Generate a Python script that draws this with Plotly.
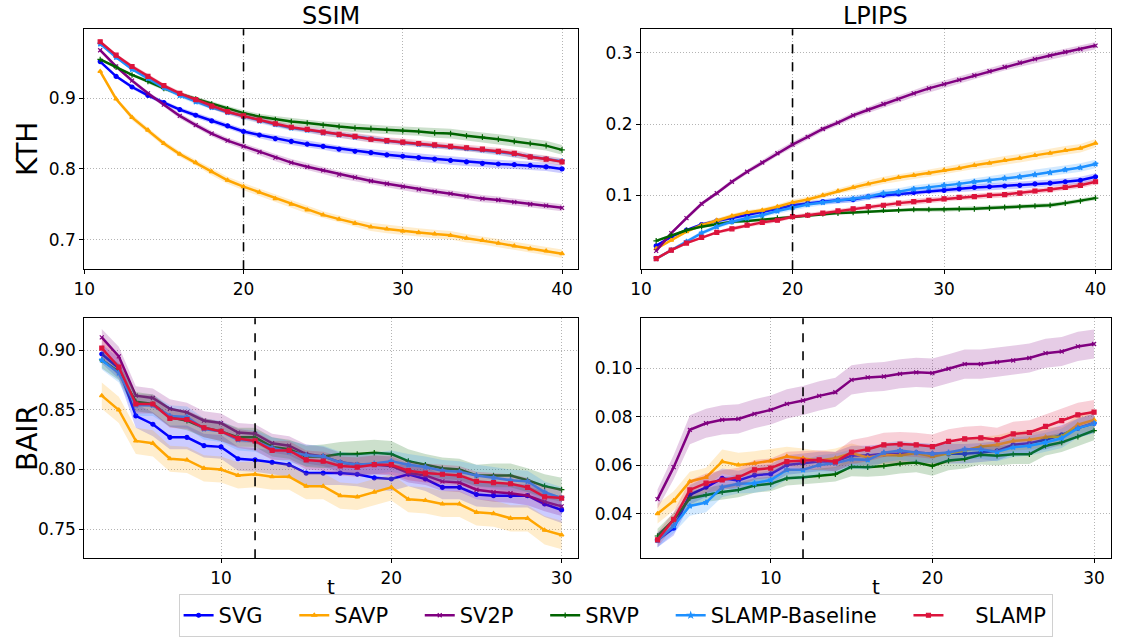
import plotly.graph_objects as go

# ---------------- data ----------------
SERIES = ["SVG", "SAVP", "SV2P", "SRVP", "SLAMP-Baseline", "SLAMP"]

T_KTH = list(range(11, 41))
T_BAIR = list(range(3, 31))
KTH_COND = 20
BAIR_COND = 12

# KTH / SSIM
KTH_SSIM_SVG = [0.952, 0.931, 0.916, 0.904, 0.894, 0.884, 0.876, 0.868, 0.861, 0.853, 0.848, 0.843, 0.839, 0.835, 0.832,
                0.828, 0.825, 0.823, 0.820, 0.818, 0.816, 0.814, 0.812, 0.810, 0.808, 0.807, 0.806, 0.805, 0.803, 0.800]
KTH_SSIM_SAVP = [0.938, 0.899, 0.873, 0.855, 0.836, 0.821, 0.809, 0.796, 0.784, 0.775, 0.767, 0.758, 0.750, 0.742, 0.735,
                 0.729, 0.723, 0.718, 0.715, 0.712, 0.710, 0.708, 0.706, 0.702, 0.699, 0.695, 0.691, 0.687, 0.684, 0.680]
KTH_SSIM_SV2P = [0.968, 0.945, 0.925, 0.907, 0.891, 0.875, 0.862, 0.850, 0.840, 0.832, 0.824, 0.816, 0.809, 0.803, 0.798,
                 0.792, 0.788, 0.783, 0.779, 0.775, 0.771, 0.768, 0.765, 0.761, 0.758, 0.756, 0.753, 0.750, 0.748, 0.745]
KTH_SSIM_SRVP = [0.955, 0.944, 0.933, 0.924, 0.914, 0.906, 0.899, 0.892, 0.885, 0.879, 0.874, 0.870, 0.867, 0.865, 0.862,
                 0.860, 0.858, 0.857, 0.855, 0.854, 0.853, 0.851, 0.850, 0.847, 0.845, 0.842, 0.839, 0.836, 0.833, 0.827]
KTH_SSIM_BASE = [0.977, 0.958, 0.941, 0.928, 0.915, 0.904, 0.895, 0.887, 0.880, 0.874, 0.868, 0.863, 0.858, 0.855, 0.851,
                 0.848, 0.845, 0.842, 0.839, 0.837, 0.835, 0.833, 0.831, 0.829, 0.827, 0.824, 0.821, 0.817, 0.814, 0.811]
KTH_SSIM_SLAMP = [0.980, 0.961, 0.945, 0.931, 0.918, 0.907, 0.898, 0.889, 0.881, 0.875, 0.869, 0.864, 0.859, 0.856, 0.852,
                  0.849, 0.846, 0.842, 0.840, 0.838, 0.836, 0.834, 0.832, 0.830, 0.828, 0.825, 0.822, 0.817, 0.814, 0.810]

KTH_SSIM_SVG_STD = [0.002, 0.002, 0.003, 0.003, 0.003, 0.003, 0.004, 0.004, 0.004, 0.004, 0.004, 0.005, 0.005, 0.005, 0.005,
                    0.005, 0.005, 0.005, 0.005, 0.006, 0.006, 0.006, 0.006, 0.006, 0.006, 0.006, 0.006, 0.006, 0.006, 0.006]
KTH_SSIM_SAVP_STD = [0.003, 0.003, 0.004, 0.004, 0.004, 0.004, 0.004, 0.005, 0.005, 0.005, 0.005, 0.005, 0.005, 0.005, 0.005,
                     0.005, 0.005, 0.006, 0.006, 0.006, 0.006, 0.006, 0.006, 0.006, 0.006, 0.006, 0.006, 0.006, 0.006, 0.006]
KTH_SSIM_SV2P_STD = [0.002, 0.002, 0.003, 0.003, 0.003, 0.004, 0.004, 0.004, 0.004, 0.004, 0.005, 0.005, 0.005, 0.005, 0.005,
                     0.005, 0.005, 0.005, 0.005, 0.005, 0.005, 0.005, 0.005, 0.005, 0.005, 0.005, 0.005, 0.005, 0.005, 0.005]
KTH_SSIM_SRVP_STD = [0.002, 0.002, 0.002, 0.003, 0.003, 0.003, 0.003, 0.004, 0.004, 0.004, 0.004, 0.005, 0.005, 0.005, 0.005,
                     0.006, 0.006, 0.006, 0.006, 0.006, 0.006, 0.007, 0.007, 0.007, 0.007, 0.007, 0.007, 0.007, 0.007, 0.007]
KTH_SSIM_BASE_STD = [0.002, 0.002, 0.002, 0.003, 0.003, 0.003, 0.003, 0.003, 0.003, 0.004, 0.004, 0.004, 0.004, 0.004, 0.004,
                     0.004, 0.004, 0.004, 0.004, 0.004, 0.004, 0.004, 0.004, 0.004, 0.004, 0.004, 0.004, 0.004, 0.004, 0.004]
KTH_SSIM_SLAMP_STD = [0.002, 0.002, 0.003, 0.003, 0.003, 0.003, 0.003, 0.004, 0.004, 0.004, 0.004, 0.004, 0.004, 0.004, 0.005,
                      0.005, 0.005, 0.005, 0.005, 0.005, 0.005, 0.005, 0.005, 0.005, 0.005, 0.005, 0.005, 0.005, 0.005, 0.005]

# KTH / LPIPS
KTH_LPIPS_SVG = [0.029, 0.042, 0.051, 0.059, 0.064, 0.068, 0.072, 0.076, 0.081, 0.086, 0.089, 0.091, 0.093, 0.094, 0.098,
                 0.100, 0.102, 0.104, 0.106, 0.107, 0.109, 0.111, 0.112, 0.113, 0.114, 0.116, 0.117, 0.119, 0.121, 0.126]
KTH_LPIPS_SAVP = [0.025, 0.037, 0.049, 0.058, 0.065, 0.071, 0.076, 0.079, 0.084, 0.090, 0.094, 0.100, 0.106, 0.111, 0.116,
                  0.121, 0.125, 0.128, 0.131, 0.135, 0.138, 0.142, 0.145, 0.149, 0.152, 0.156, 0.159, 0.163, 0.166, 0.173]
KTH_LPIPS_SV2P = [0.022, 0.047, 0.068, 0.088, 0.103, 0.119, 0.133, 0.146, 0.159, 0.171, 0.182, 0.193, 0.202, 0.212, 0.220,
                  0.228, 0.235, 0.243, 0.250, 0.256, 0.262, 0.268, 0.274, 0.280, 0.286, 0.291, 0.296, 0.301, 0.305, 0.310]
KTH_LPIPS_SRVP = [0.036, 0.044, 0.051, 0.056, 0.060, 0.063, 0.064, 0.066, 0.068, 0.070, 0.072, 0.074, 0.075, 0.076, 0.077,
                  0.079, 0.079, 0.080, 0.080, 0.080, 0.081, 0.081, 0.082, 0.083, 0.084, 0.085, 0.086, 0.089, 0.092, 0.096]
KTH_LPIPS_BASE = [0.011, 0.023, 0.035, 0.047, 0.056, 0.063, 0.068, 0.072, 0.078, 0.083, 0.087, 0.090, 0.093, 0.095, 0.098,
                  0.103, 0.105, 0.109, 0.111, 0.114, 0.116, 0.119, 0.121, 0.124, 0.126, 0.129, 0.132, 0.136, 0.139, 0.144]
KTH_LPIPS_SLAMP = [0.011, 0.023, 0.033, 0.041, 0.048, 0.053, 0.058, 0.062, 0.065, 0.070, 0.072, 0.075, 0.078, 0.081, 0.084,
                   0.086, 0.089, 0.091, 0.093, 0.095, 0.097, 0.098, 0.100, 0.101, 0.103, 0.106, 0.108, 0.111, 0.114, 0.119]

KTH_LPIPS_SVG_STD = [0.002, 0.002, 0.002, 0.002, 0.003, 0.003, 0.003, 0.003, 0.003, 0.003, 0.003, 0.004, 0.004, 0.004, 0.004,
                     0.004, 0.004, 0.004, 0.004, 0.004, 0.005, 0.005, 0.005, 0.005, 0.005, 0.005, 0.005, 0.005, 0.005, 0.005]
KTH_LPIPS_SAVP_STD = [0.002, 0.002, 0.002, 0.003, 0.003, 0.003, 0.003, 0.003, 0.003, 0.004, 0.004, 0.004, 0.004, 0.004, 0.005,
                      0.005, 0.005, 0.005, 0.005, 0.005, 0.005, 0.005, 0.006, 0.006, 0.006, 0.006, 0.006, 0.006, 0.006, 0.006]
KTH_LPIPS_SV2P_STD = [0.002, 0.002, 0.003, 0.003, 0.003, 0.003, 0.003, 0.004, 0.004, 0.004, 0.004, 0.004, 0.004, 0.004, 0.004,
                      0.005, 0.005, 0.005, 0.005, 0.005, 0.005, 0.005, 0.005, 0.005, 0.005, 0.005, 0.005, 0.005, 0.005, 0.005]
KTH_LPIPS_SRVP_STD = [0.002, 0.002, 0.002, 0.002, 0.002, 0.002, 0.002, 0.002, 0.002, 0.002, 0.002, 0.002, 0.002, 0.002, 0.002,
                      0.002, 0.003, 0.003, 0.003, 0.003, 0.003, 0.003, 0.003, 0.003, 0.003, 0.003, 0.003, 0.003, 0.003, 0.003]
KTH_LPIPS_BASE_STD = [0.002, 0.002, 0.002, 0.003, 0.003, 0.003, 0.003, 0.003, 0.004, 0.004, 0.004, 0.004, 0.004, 0.004, 0.005,
                      0.005, 0.005, 0.005, 0.005, 0.005, 0.005, 0.005, 0.006, 0.006, 0.006, 0.006, 0.006, 0.006, 0.006, 0.006]
KTH_LPIPS_SLAMP_STD = [0.002, 0.002, 0.002, 0.002, 0.002, 0.003, 0.003, 0.003, 0.003, 0.003, 0.003, 0.003, 0.003, 0.003, 0.003,
                       0.004, 0.004, 0.004, 0.004, 0.004, 0.004, 0.004, 0.004, 0.004, 0.004, 0.004, 0.004, 0.004, 0.004, 0.004]

# BAIR / SSIM
BAIR_SSIM_SVG = [0.897, 0.885, 0.845, 0.838, 0.827, 0.827, 0.820, 0.819, 0.809, 0.808, 0.806, 0.804, 0.797, 0.797,
                 0.797, 0.796, 0.793, 0.792, 0.796, 0.792, 0.785, 0.785, 0.779, 0.778, 0.778, 0.778, 0.771, 0.766]
BAIR_SSIM_SAVP = [0.862, 0.850, 0.824, 0.822, 0.809, 0.808, 0.801, 0.800, 0.795, 0.796, 0.794, 0.794, 0.786, 0.786,
                  0.778, 0.777, 0.781, 0.785, 0.775, 0.774, 0.771, 0.771, 0.764, 0.763, 0.759, 0.759, 0.749, 0.745]
BAIR_SSIM_SV2P = [0.911, 0.895, 0.862, 0.860, 0.851, 0.848, 0.841, 0.839, 0.831, 0.830, 0.822, 0.820, 0.813, 0.811,
                  0.806, 0.804, 0.804, 0.803, 0.797, 0.795, 0.790, 0.789, 0.783, 0.781, 0.780, 0.778, 0.773, 0.769]
BAIR_SSIM_SRVP = [0.892, 0.882, 0.857, 0.855, 0.844, 0.841, 0.835, 0.832, 0.827, 0.827, 0.819, 0.817, 0.811, 0.811,
                  0.813, 0.813, 0.814, 0.813, 0.807, 0.804, 0.801, 0.800, 0.795, 0.795, 0.795, 0.791, 0.786, 0.783]
BAIR_SSIM_BASE = [0.892, 0.881, 0.854, 0.854, 0.845, 0.844, 0.834, 0.832, 0.825, 0.824, 0.818, 0.815, 0.812, 0.811,
                  0.806, 0.804, 0.805, 0.807, 0.804, 0.802, 0.799, 0.798, 0.795, 0.793, 0.791, 0.790, 0.781, 0.776]
BAIR_SSIM_SLAMP = [0.902, 0.886, 0.855, 0.855, 0.843, 0.842, 0.835, 0.832, 0.826, 0.824, 0.816, 0.816, 0.808, 0.807,
                   0.803, 0.802, 0.804, 0.804, 0.799, 0.797, 0.796, 0.795, 0.790, 0.789, 0.788, 0.785, 0.777, 0.776]

BAIR_SSIM_SVG_STD = [0.008, 0.009, 0.010, 0.010, 0.010, 0.010, 0.010, 0.010, 0.010, 0.010, 0.010, 0.010, 0.010, 0.010,
                     0.010, 0.010, 0.010, 0.010, 0.010, 0.010, 0.010, 0.010, 0.010, 0.010, 0.010, 0.010, 0.011, 0.011]
BAIR_SSIM_SAVP_STD = [0.011, 0.011, 0.011, 0.011, 0.011, 0.011, 0.011, 0.011, 0.011, 0.011, 0.011, 0.011, 0.011, 0.011,
                      0.011, 0.011, 0.011, 0.011, 0.011, 0.011, 0.011, 0.011, 0.011, 0.011, 0.011, 0.011, 0.012, 0.012]
BAIR_SSIM_SV2P_STD = [0.007, 0.008, 0.008, 0.008, 0.008, 0.008, 0.008, 0.008, 0.008, 0.008, 0.008, 0.008, 0.008, 0.008,
                      0.008, 0.008, 0.008, 0.008, 0.008, 0.008, 0.008, 0.008, 0.008, 0.008, 0.008, 0.008, 0.008, 0.008]
BAIR_SSIM_SRVP_STD = [0.007, 0.007, 0.008, 0.008, 0.008, 0.008, 0.008, 0.008, 0.008, 0.008, 0.008, 0.008, 0.009, 0.010,
                      0.010, 0.011, 0.011, 0.011, 0.010, 0.009, 0.009, 0.009, 0.009, 0.010, 0.010, 0.010, 0.010, 0.010]
BAIR_SSIM_BASE_STD = [0.008, 0.008, 0.009, 0.009, 0.009, 0.009, 0.009, 0.009, 0.009, 0.009, 0.009, 0.009, 0.009, 0.009,
                      0.009, 0.009, 0.009, 0.009, 0.009, 0.009, 0.009, 0.009, 0.009, 0.009, 0.009, 0.009, 0.009, 0.009]
BAIR_SSIM_SLAMP_STD = [0.008, 0.008, 0.008, 0.008, 0.008, 0.008, 0.008, 0.008, 0.008, 0.008, 0.008, 0.008, 0.008, 0.008,
                       0.008, 0.008, 0.008, 0.008, 0.008, 0.008, 0.008, 0.008, 0.008, 0.008, 0.008, 0.008, 0.008, 0.008]

# BAIR / LPIPS
BAIR_LPIPS_SVG = [0.0292, 0.0340, 0.0478, 0.0509, 0.0546, 0.0537, 0.0559, 0.0564, 0.0601, 0.0608, 0.0615, 0.0615, 0.0640, 0.0640,
                  0.0647, 0.0647, 0.0652, 0.0647, 0.0647, 0.0647, 0.0652, 0.0659, 0.0684, 0.0691, 0.0705, 0.0725, 0.0753, 0.0773]
BAIR_LPIPS_SAVP = [0.0400, 0.0453, 0.0533, 0.0550, 0.0615, 0.0601, 0.0608, 0.0618, 0.0636, 0.0629, 0.0619, 0.0629, 0.0650, 0.0632,
                   0.0643, 0.0640, 0.0650, 0.0636, 0.0647, 0.0661, 0.0677, 0.0684, 0.0700, 0.0705, 0.0716, 0.0718, 0.0767, 0.0787]
BAIR_LPIPS_SV2P = [0.0460, 0.0592, 0.0746, 0.0773, 0.0787, 0.0791, 0.0812, 0.0828, 0.0853, 0.0867, 0.0886, 0.0901, 0.0952, 0.0962,
                   0.0966, 0.0977, 0.0983, 0.0980, 0.0998, 0.1017, 0.1017, 0.1025, 0.1032, 0.1042, 0.1062, 0.1069, 0.1090, 0.1100]
BAIR_LPIPS_SRVP = [0.0308, 0.0374, 0.0464, 0.0478, 0.0489, 0.0498, 0.0516, 0.0523, 0.0546, 0.0550, 0.0557, 0.0563, 0.0594, 0.0592,
                   0.0597, 0.0606, 0.0611, 0.0597, 0.0619, 0.0626, 0.0643, 0.0639, 0.0645, 0.0645, 0.0680, 0.0694, 0.0718, 0.0743]
BAIR_LPIPS_BASE = [0.0289, 0.0350, 0.0432, 0.0446, 0.0509, 0.0523, 0.0526, 0.0539, 0.0581, 0.0581, 0.0601, 0.0608, 0.0625, 0.0622,
                   0.0652, 0.0661, 0.0652, 0.0647, 0.0652, 0.0666, 0.0666, 0.0656, 0.0674, 0.0680, 0.0694, 0.0711, 0.0753, 0.0773]
BAIR_LPIPS_SLAMP = [0.0292, 0.0377, 0.0498, 0.0526, 0.0539, 0.0550, 0.0581, 0.0588, 0.0615, 0.0618, 0.0622, 0.0614, 0.0654, 0.0666,
                    0.0684, 0.0687, 0.0684, 0.0677, 0.0698, 0.0709, 0.0713, 0.0705, 0.0729, 0.0735, 0.0760, 0.0784, 0.0808, 0.0819]

BAIR_LPIPS_SVG_STD = [0.003, 0.003, 0.004, 0.004, 0.004, 0.004, 0.004, 0.004, 0.004, 0.004, 0.004, 0.004, 0.004, 0.004,
                      0.004, 0.004, 0.004, 0.004, 0.004, 0.004, 0.004, 0.004, 0.004, 0.004, 0.004, 0.004, 0.004, 0.004]
BAIR_LPIPS_SAVP_STD = [0.004, 0.004, 0.004, 0.004, 0.005, 0.005, 0.005, 0.005, 0.004, 0.004, 0.004, 0.004, 0.004, 0.004,
                       0.004, 0.004, 0.004, 0.004, 0.004, 0.004, 0.004, 0.004, 0.004, 0.004, 0.004, 0.004, 0.004, 0.004]
BAIR_LPIPS_SV2P_STD = [0.004, 0.005, 0.006, 0.006, 0.006, 0.006, 0.006, 0.006, 0.006, 0.006, 0.006, 0.006, 0.006, 0.006,
                       0.006, 0.006, 0.006, 0.006, 0.006, 0.006, 0.006, 0.006, 0.006, 0.006, 0.006, 0.006, 0.006, 0.006]
BAIR_LPIPS_SRVP_STD = [0.003, 0.003, 0.003, 0.003, 0.003, 0.003, 0.003, 0.003, 0.003, 0.003, 0.003, 0.003, 0.004, 0.004,
                       0.004, 0.004, 0.004, 0.004, 0.004, 0.004, 0.004, 0.004, 0.004, 0.004, 0.004, 0.004, 0.004, 0.004]
BAIR_LPIPS_BASE_STD = [0.003, 0.003, 0.004, 0.004, 0.004, 0.004, 0.004, 0.004, 0.004, 0.004, 0.004, 0.004, 0.004, 0.004,
                       0.004, 0.004, 0.004, 0.004, 0.004, 0.004, 0.004, 0.004, 0.004, 0.004, 0.004, 0.004, 0.004, 0.004]
BAIR_LPIPS_SLAMP_STD = [0.003, 0.003, 0.004, 0.004, 0.004, 0.004, 0.004, 0.004, 0.004, 0.004, 0.004, 0.004, 0.005, 0.005,
                        0.005, 0.005, 0.005, 0.005, 0.005, 0.005, 0.005, 0.005, 0.005, 0.005, 0.005, 0.005, 0.005, 0.005]

# ---------------- style ----------------
COLORS = ["#0000FF", "#FFA500", "#800080", "#006400", "#1E90FF", "#DC143C"]
MARKERS = ["circle", "triangle-up", "x-thin", "cross-thin", "star", "square"]
FONT = "DejaVu Sans"
NB = "\u00a0"
# legend labels padded so the entries spread out like the matplotlib legend
LEGEND_NAMES = [n + NB * 4 for n in SERIES[:-1]] + [NB * 4 + SERIES[-1]]


def rgba(hex_color, a):
    h = hex_color.lstrip("#")
    return "rgba(%d,%d,%d,%.2f)" % (int(h[0:2], 16), int(h[2:4], 16), int(h[4:6], 16), a)


panels = [
    ("x", "y", T_KTH, KTH_COND,
     [KTH_SSIM_SVG, KTH_SSIM_SAVP, KTH_SSIM_SV2P, KTH_SSIM_SRVP, KTH_SSIM_BASE, KTH_SSIM_SLAMP],
     [KTH_SSIM_SVG_STD, KTH_SSIM_SAVP_STD, KTH_SSIM_SV2P_STD, KTH_SSIM_SRVP_STD, KTH_SSIM_BASE_STD, KTH_SSIM_SLAMP_STD]),
    ("x2", "y2", T_KTH, KTH_COND,
     [KTH_LPIPS_SVG, KTH_LPIPS_SAVP, KTH_LPIPS_SV2P, KTH_LPIPS_SRVP, KTH_LPIPS_BASE, KTH_LPIPS_SLAMP],
     [KTH_LPIPS_SVG_STD, KTH_LPIPS_SAVP_STD, KTH_LPIPS_SV2P_STD, KTH_LPIPS_SRVP_STD, KTH_LPIPS_BASE_STD, KTH_LPIPS_SLAMP_STD]),
    ("x3", "y3", T_BAIR, BAIR_COND,
     [BAIR_SSIM_SVG, BAIR_SSIM_SAVP, BAIR_SSIM_SV2P, BAIR_SSIM_SRVP, BAIR_SSIM_BASE, BAIR_SSIM_SLAMP],
     [BAIR_SSIM_SVG_STD, BAIR_SSIM_SAVP_STD, BAIR_SSIM_SV2P_STD, BAIR_SSIM_SRVP_STD, BAIR_SSIM_BASE_STD, BAIR_SSIM_SLAMP_STD]),
    ("x4", "y4", T_BAIR, BAIR_COND,
     [BAIR_LPIPS_SVG, BAIR_LPIPS_SAVP, BAIR_LPIPS_SV2P, BAIR_LPIPS_SRVP, BAIR_LPIPS_BASE, BAIR_LPIPS_SLAMP],
     [BAIR_LPIPS_SVG_STD, BAIR_LPIPS_SAVP_STD, BAIR_LPIPS_SV2P_STD, BAIR_LPIPS_SRVP_STD, BAIR_LPIPS_BASE_STD, BAIR_LPIPS_SLAMP_STD]),
]

fig = go.Figure()
shapes = []
for p, (xa, ya, t, cond, means, stds) in enumerate(panels):
    for i, name in enumerate(SERIES):
        m, s = means[i], stds[i]
        upper = [a + b for a, b in zip(m, s)]
        lower = [a - b for a, b in zip(m, s)]
        fig.add_trace(go.Scatter(
            x=t + t[::-1], y=upper + lower[::-1], xaxis=xa, yaxis=ya,
            fill="toself", fillcolor=rgba(COLORS[i], 0.2), line=dict(width=0),
            mode="lines", hoverinfo="skip", showlegend=False))
        fig.add_trace(go.Scatter(
            x=t, y=m, xaxis=xa, yaxis=ya, name=LEGEND_NAMES[i],
            mode="lines+markers", line=dict(color=COLORS[i], width=2.5),
            marker=dict(symbol=MARKERS[i], size=4, color=COLORS[i],
                        line=dict(color=COLORS[i], width=1.2)),
            showlegend=(p == 0), legendgroup=name))
    shapes.append(dict(type="line", xref=xa, yref=ya + " domain", x0=cond, x1=cond, y0=0, y1=1,
                       line=dict(color="black", width=1.6, dash="dash")))

axis_common = dict(showline=True, mirror=True, linecolor="black", linewidth=1, ticks="outside",
                   ticklen=4, tickcolor="black", showgrid=True, gridcolor="#b4b4b4", griddash="1px,2px",
                   gridwidth=1, zeroline=False, automargin=False,
                   tickfont=dict(family=FONT, size=17, color="black"))

XL = [0.0739, 0.5070]
XR = [0.5623, 0.9743]
YT = [0.5786, 0.9541]
YB = [0.1263, 0.5019]

fig.update_layout(
    width=1140, height=639, margin=dict(l=0, r=0, t=0, b=0, autoexpand=False),
    paper_bgcolor="white", plot_bgcolor="white",
    font=dict(family=FONT, color="black"),
    xaxis=dict(domain=XL, anchor="y", range=[10, 41], tickvals=[10, 20, 30, 40], **axis_common),
    yaxis=dict(domain=YT, anchor="x", range=[0.658, 0.9976], tickvals=[0.7, 0.8, 0.9], tickformat=".1f", **axis_common),
    xaxis2=dict(domain=XR, anchor="y2", range=[10, 41], tickvals=[10, 20, 30, 40], **axis_common),
    yaxis2=dict(domain=YT, anchor="x2", range=[-0.0038, 0.3328], tickvals=[0.1, 0.2, 0.3], tickformat=".1f", **axis_common),
    xaxis3=dict(domain=XL, anchor="y3", range=[1.97, 30.96], tickvals=[10, 20, 30], **axis_common),
    yaxis3=dict(domain=YB, anchor="x3", range=[0.7254, 0.927], tickvals=[0.75, 0.80, 0.85, 0.90], tickformat=".2f", **axis_common),
    xaxis4=dict(domain=XR, anchor="y4", range=[1.98, 31.03], tickvals=[10, 20, 30], **axis_common),
    yaxis4=dict(domain=YB, anchor="x4", range=[0.0216, 0.1206], tickvals=[0.04, 0.06, 0.08, 0.10], tickformat=".2f", **axis_common),
    shapes=shapes,
    legend=dict(orientation="h", x=0.540, y=0.003, xanchor="center", yanchor="bottom",
                font=dict(family=FONT, size=21, color="black"), bordercolor="#d0d0d0", borderwidth=1,
                bgcolor="white", itemwidth=30, tracegroupgap=0),
)

ann = [
    dict(text="SSIM", x=(XL[0] + XL[1]) / 2, y=0.975, size=24, angle=0),
    dict(text="LPIPS", x=(XR[0] + XR[1]) / 2, y=0.975, size=24, angle=0),
    dict(text="KTH", x=0.0246, y=0.767, size=28, angle=-90),
    dict(text="BAIR", x=0.0246, y=0.3146, size=28, angle=-90),
    dict(text="t", x=(XL[0] + XL[1]) / 2, y=0.0814, size=20, angle=0),
    dict(text="t", x=(XR[0] + XR[1]) / 2, y=0.0814, size=20, angle=0),
]
for a in ann:
    fig.add_annotation(text=a["text"], x=a["x"], y=a["y"], xref="paper", yref="paper",
                       xanchor="center", yanchor="middle", showarrow=False, textangle=a["angle"],
                       font=dict(family=FONT, size=a["size"], color="black"))

fig.write_html("out.html", config={"displayModeBar": False},
               post_script="document.body.style.margin='0';")
